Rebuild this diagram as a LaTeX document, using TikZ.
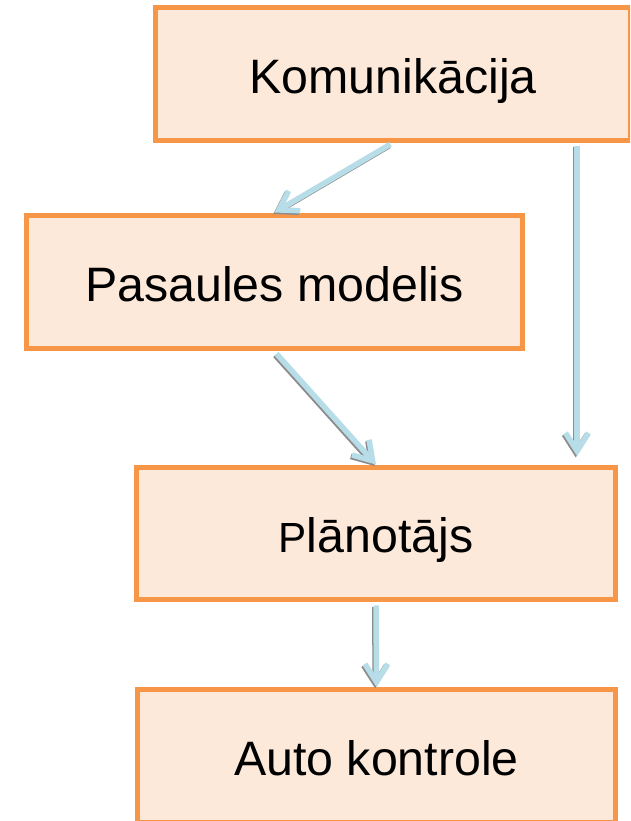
\documentclass[tikz,border=0pt]{standalone}
\usepackage{fontspec}
\setmainfont{Liberation Sans}
\usetikzlibrary{arrows.meta}

\definecolor{boxline}{HTML}{F79646}
\definecolor{boxfill}{HTML}{FDE9D9}
\definecolor{flowblue}{HTML}{B7DEE8}

\tikzset{
  block/.style={draw=boxline, fill=boxfill, line width=0.1cm, minimum width=9.58cm, minimum height=2.66cm,
    text height=22pt, text depth=0pt, font=\fontsize{27.5}{32}\selectfont},
  flow/.style={flowblue, line width=0.11cm, shorten <=0.06cm, -{Straight Barb[length=0.36cm,width=0.46cm]}},
  flowshade/.style={flow, black!45, transform canvas={shift={(-0.025cm,-0.03cm)}}}
}

\begin{document}
\begin{tikzpicture}[x=0.02cm,y=-0.02cm]
        \useasboundingbox (0,0) rectangle (630,821);
        \clip (0,0) rectangle (630,821);

        \node[block, minimum width=9.52cm, minimum height=2.65cm] (kom) at (393,74) {Komunikācija};
        \node[block, minimum width=9.94cm, minimum height=2.68cm] (pas) at (274.5,282) {Pasaules modelis};
        \node[block, minimum width=9.59cm] (plan) at (376,533.5) {{\fontsize{24}{28}\selectfont P}lānotājs};
        \node[block] (auto) at (376.5,756) {Auto kontrole};

        \coordinate (kr) at (577,143);
        \coordinate (pr) at (577,456);

        \foreach \from/\to in {kom.south/pas.north, kr/pr, pas.south/plan.north, plan.south/auto.north} {
            \draw[flowshade] (\from) -- (\to);
            \draw[flow] (\from) -- (\to);
        }
\end{tikzpicture}
\end{document}
